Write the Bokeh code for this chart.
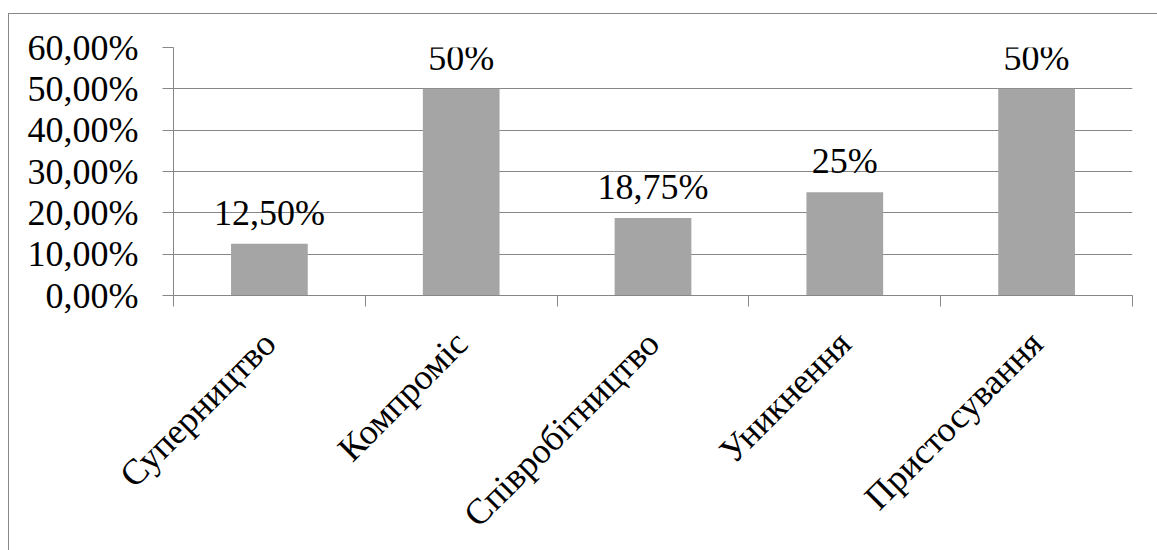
import numpy as np
from bokeh.plotting import figure
from bokeh.models import ColumnDataSource, FixedTicker, LabelSet, Range1d
from bokeh.core.properties import value
from bokeh.embed import file_html
from bokeh.resources import INLINE

# Conflict-handling styles and their shares, in percent
categories = ["Суперництво", "Компроміс", "Співробітництво", "Уникнення", "Пристосування"]
shares = [12.5, 50, 18.75, 25, 50]
share_labels = ["12,50%", "50%", "18,75%", "25%", "50%"]
y_ticks = [0, 10, 20, 30, 40, 50, 60]
y_tick_labels = ["0,00%", "10,00%", "20,00%", "30,00%", "40,00%", "50,00%", "60,00%"]

FONT = "Liberation Serif"
GRID = "#878787"
BAR = "#a5a5a5"

# the chart box sits 8px in from the left and 13px down from the top
OFF_X, OFF_Y = 8, 13

n = len(categories)
centers = np.arange(n) + 0.5
source = ColumnDataSource(dict(x=centers, top=shares, label=share_labels))

p = figure(frame_width=959, frame_height=248,
           output_backend="svg", toolbar_location=None,
           x_range=Range1d(0, n), y_range=Range1d(y_ticks[0], y_ticks[-1]),
           min_border_left=164, min_border_right=25,
           min_border_top=33, min_border_bottom=255)
p.margin = (OFF_Y, 0, 0, OFF_X)
p.styles = {"border-left": f"1px solid {GRID}", "border-top": f"1px solid {GRID}"}
p.outline_line_color = None
p.background_fill_color = "white"
p.border_fill_color = "white"

p.vbar(x="x", top="top", width=0.4, bottom=0, source=source,
       fill_color=BAR, line_color=None)

# value labels above the bars
p.add_layout(LabelSet(x="x", y="top", text="label", source=source,
                      text_align="center", text_baseline="alphabetic", y_offset=19,
                      text_font=value(FONT), text_font_size="36px", text_color="black"))

# y axis
p.yaxis.ticker = FixedTicker(ticks=y_ticks)
p.yaxis.major_label_overrides = {t: s for t, s in zip(y_ticks, y_tick_labels)}
p.yaxis.minor_tick_line_color = None
p.yaxis.major_tick_in = 0
p.yaxis.major_tick_out = 11
p.yaxis.major_tick_line_color = GRID
p.yaxis.axis_line_color = GRID
p.yaxis.major_label_text_font = FONT
p.yaxis.major_label_text_font_size = "36px"
p.yaxis.major_label_text_color = "black"
p.yaxis.major_label_standoff = 24

# x axis: labels at category centres, ticks on category boundaries
p.xaxis.ticker = FixedTicker(ticks=list(centers), minor_ticks=list(range(n + 1)))
p.xaxis.major_label_overrides = {float(c): s for c, s in zip(centers, categories)}
p.xaxis.major_tick_line_color = None
p.xaxis.minor_tick_line_color = GRID
p.xaxis.minor_tick_in = 0
p.xaxis.minor_tick_out = 11
p.xaxis.axis_line_color = GRID
p.xaxis.major_label_orientation = np.pi / 4
p.xaxis.major_label_text_font = FONT
p.xaxis.major_label_text_font_size = "36px"
p.xaxis.major_label_text_color = "black"
p.xaxis.major_label_standoff = 31

p.xgrid.grid_line_color = None
p.ygrid.ticker = FixedTicker(ticks=y_ticks)
p.ygrid.grid_line_color = GRID
p.ygrid.grid_line_width = 1

open("out.html", "w").write(file_html(p, INLINE))
